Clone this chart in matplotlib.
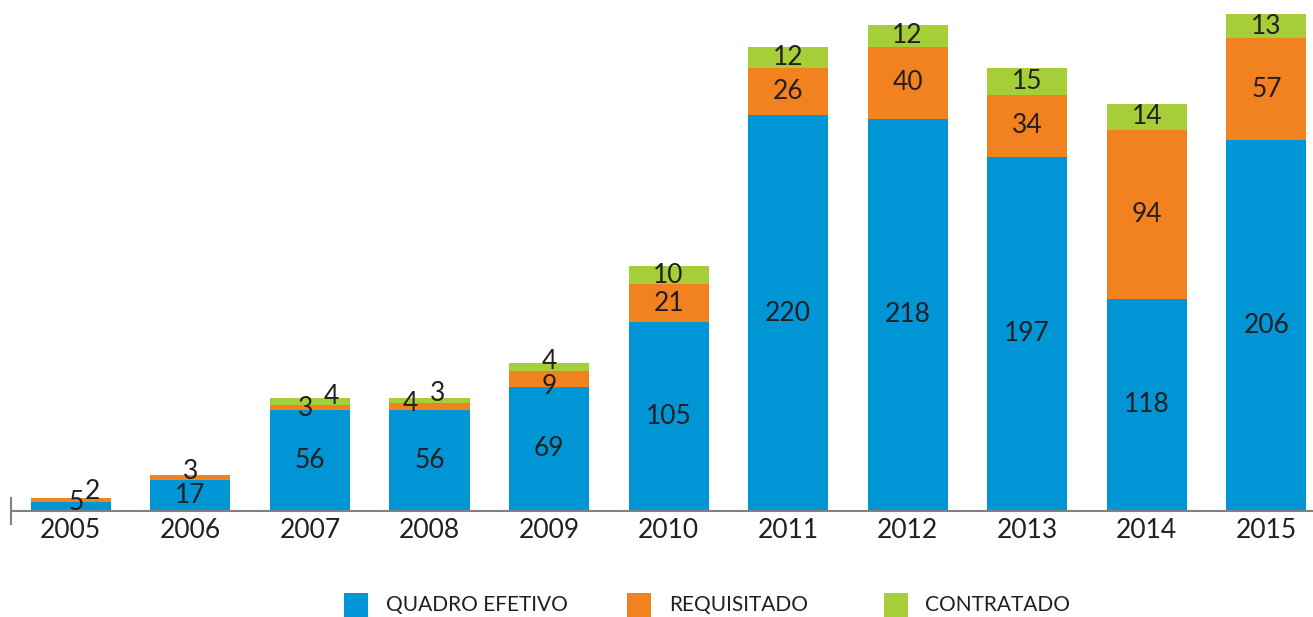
import matplotlib
matplotlib.use("Agg")
import matplotlib.pyplot as plt
from matplotlib.patches import Rectangle

plt.rcParams['font.family'] = ['Lato', 'DejaVu Sans']

years = ["2005", "2006", "2007", "2008", "2009", "2010", "2011", "2012", "2013", "2014", "2015"]
quadro_efetivo = [5, 17, 56, 56, 69, 105, 220, 218, 197, 118, 206]
requisitado = [2, 3, 3, 4, 9, 21, 26, 40, 34, 94, 57]
contratado = [0, 0, 4, 3, 4, 10, 12, 12, 15, 14, 13]
series_names = ["QUADRO EFETIVO", "REQUISITADO", "CONTRATADO"]

colors = ["#0096D6", "#F28220", "#A6CE39"]
text_color = "#231F20"
fw = "normal"

# label nudges in pixels (series index, year index) -> (dx, dy)
nudges = {
    (0, 0): (5, 4), (1, 0): (22, 9),
    (1, 1): (0, 6),
    (1, 2): (-4, -1), (2, 2): (21, 5),
    (1, 3): (-19, 3), (2, 3): (8, 7),
    (1, 4): (0, -8), (2, 4): (0, 6),
}

W, H = 1313, 617
fig = plt.figure(figsize=(W / 100, H / 100), dpi=100)
ax = fig.add_axes([11 / W, 106 / H, 1 - 11 / W, 1 - 106 / H])

x = list(range(len(years)))
bottom = [0] * len(years)
all_series = [quadro_efetivo, requisitado, contratado]
for si, (vals, col) in enumerate(zip(all_series, colors)):
    ax.bar(x, vals, width=0.67, bottom=bottom, color=col, linewidth=0)
    for i, v in enumerate(vals):
        if v > 0:
            dx, dy = nudges.get((si, i), (0, 0))
            ax.annotate(str(v), (x[i], bottom[i] + v / 2), xytext=(dx, dy),
                        textcoords="offset pixels", ha="center", va="center",
                        fontsize=19, color=text_color, fontweight=fw)
    bottom = [b + v for b, v in zip(bottom, vals)]

ax.set_xlim(-0.5, 10.39)
ax.set_ylim(0, 284)
for s in ["top", "right", "left"]:
    ax.spines[s].set_visible(False)
ax.spines["bottom"].set_color("#808080")
ax.spines["bottom"].set_linewidth(1.5)
ax.set_yticks([])
ax.set_xticks(x)
ax.set_xticklabels(years, fontsize=19, color=text_color, fontweight=fw)
ax.tick_params(axis="x", length=0, pad=5)
ax.plot([-0.5, -0.5], [-7, 7], color="#808080", lw=1.5, clip_on=False)

# legend
sq = 24
leg_items = [(344, 386), (627, 669), (884, 925)]
for (sx, tx), name, col in zip(leg_items, series_names, colors):
    fig.patches.append(Rectangle((sx / W, 0 / H), sq / W, sq / H,
                                 transform=fig.transFigure, color=col, lw=0))
    fig.text(tx / W, (H - 605) / H, name, fontsize=15, color=text_color,
             ha="left", va="center", fontweight=fw)

fig.savefig("out.png", dpi=100)
